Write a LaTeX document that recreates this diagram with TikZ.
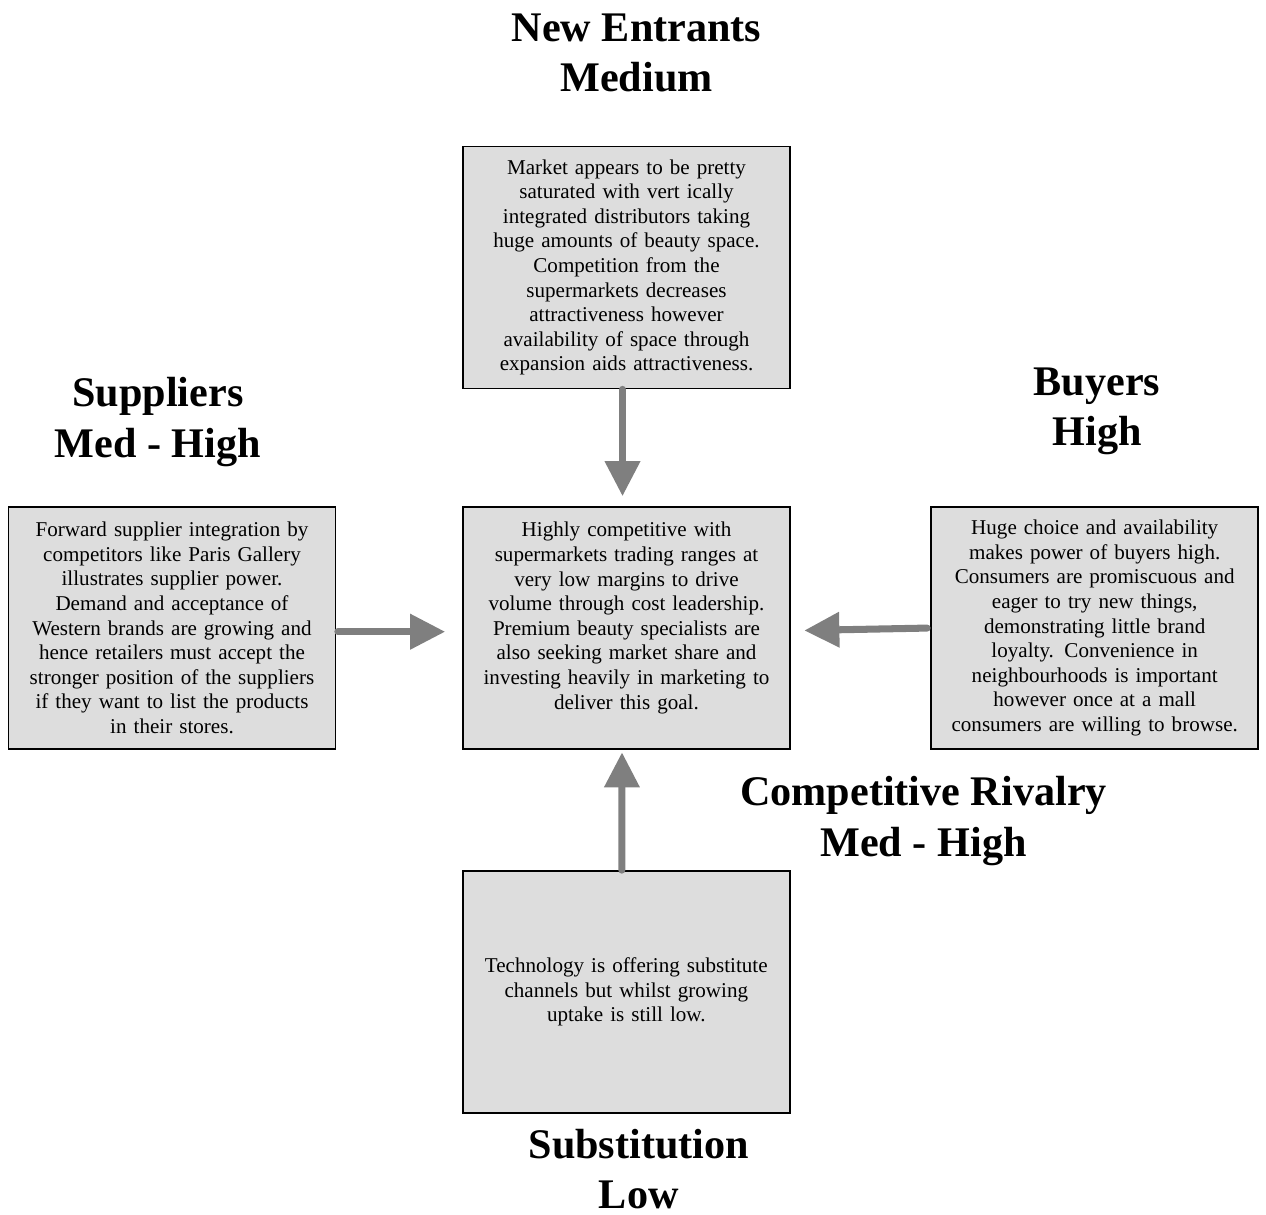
\documentclass[tikz,border=0pt]{standalone}
\usepackage{fontspec}
\setmainfont{Liberation Serif}
\usetikzlibrary{arrows.meta}
\definecolor{boxgray}{HTML}{DDDDDD}
\definecolor{arrowgray}{HTML}{7F7F7F}
\tikzset{
	forcebox/.style={draw=black,line width=1pt,fill=boxgray,minimum width=6.54cm,minimum height=4.84cm,
		text width=6.2cm,inner xsep=0.17cm,align=center,font=\fontsize{12}{14}\selectfont},
	forcetitle/.style={align=center,inner sep=0pt,font=\fontsize{24}{28.8}\selectfont\bfseries},
	forcearrow/.style={draw=arrowgray,line width=4pt,line cap=round,-{Triangle[length=0.7cm,width=0.68cm,fill=arrowgray]}}
}

\begin{document}
\begin{tikzpicture}[x=0.02cm,y=-0.02cm]
	\useasboundingbox (0,0) rectangle (1266,1214);
	\node[forcebox] (entrants) at (626.5,267.5) {Market appears to be pretty\\ saturated with vert ically\\ integrated distributors taking\\ huge amounts of beauty space.\\ Competition from the\\ supermarkets decreases\\ attractiveness however\\ availability of space through\\ expansion aids attractiveness.};
	\node[forcebox] (rivalry) at (626.5,628) {Highly competitive with\\ supermarkets trading ranges at\\ very low margins to drive\\ volume through cost leadership.\\ Premium beauty specialists are\\ also seeking market share and\\ investing heavily in marketing to\\ deliver this goal.\\ \mbox{}};
	\node[forcebox] (suppliers) at (172,628) {Forward supplier integration by\\ competitors like Paris Gallery\\ illustrates supplier power.\\ Demand and acceptance of\\ Western brands are growing and\\ hence retailers must accept the\\ stronger position of the suppliers\\ if they want to list the products\\ in their stores.};
	\node[forcebox] (buyers) at (1094.7,628) {Huge choice and availability\\ makes power of buyers high.\\ Consumers are promiscuous and\\ eager to try new things,\\ demonstrating little brand\\ loyalty. Convenience in\\ neighbourhoods is important\\ however once at a mall\\ consumers are willing to browse.};
	\node[forcebox] (subst) at (626.3,992) {Technology is offering substitute\\ channels but whilst growing\\ uptake is still low.};

	\node[forcetitle] (entrants-title) at (636.5,53) {New Entrants\\ Medium};
	\node[forcetitle] (suppliers-title) at (158,422) {Suppliers\\ Med - High};
	\node[forcetitle] (buyers-title) at (1097,411.5) {Buyers\\ High};
	\node[forcetitle] (rivalry-title) at (923.5,821) {Competitive Rivalry\\ Med - High};
	\node[forcetitle] (subst-title) at (638.8,1169) {Substitution\\ Low};

	\draw[forcearrow,shorten >=0.2cm] ([xshift=-0.08cm]entrants.south) -- ([xshift=-0.08cm]rivalry.north);
	\draw[forcearrow,shorten <=0.03cm,shorten >=0.34cm] ([yshift=-0.074cm]suppliers.east) -- ([yshift=-0.074cm]rivalry.west);
	\draw[forcearrow,shorten <=0.064cm,shorten >=0.27cm] (buyers.west) -- ([yshift=-0.054cm]rivalry.east);
	\draw[forcearrow,shorten >=0.05cm] ([xshift=-0.09cm]subst.north) -- ([xshift=-0.09cm]rivalry.south);
\end{tikzpicture}
\end{document}
